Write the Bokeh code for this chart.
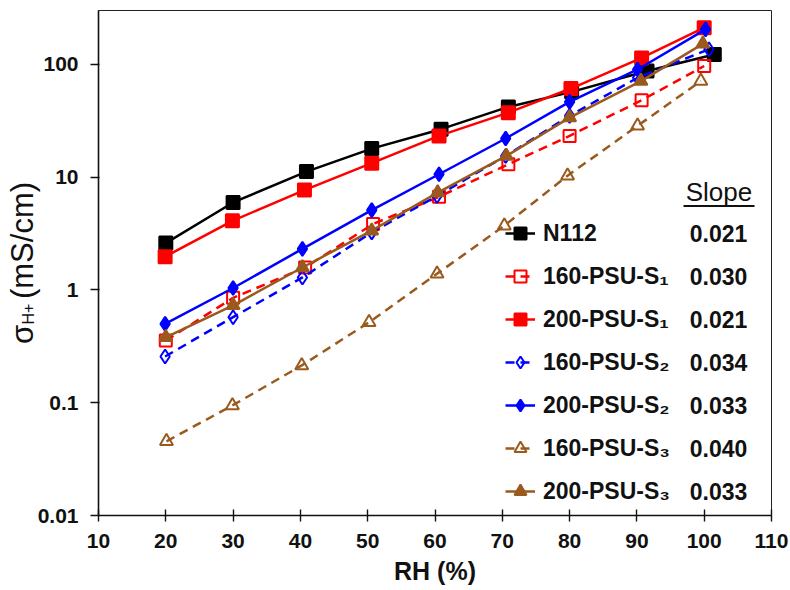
from bokeh.plotting import figure
from bokeh.models import (Range1d, FixedTicker, CustomJSTickFormatter, Legend,
                          LegendItem, Label, BoxAnnotation, LinearAxis,
                          LinearScale)
from bokeh.embed import file_html
from bokeh.resources import INLINE

# ---------------- data ----------------
X_TICKS = [10, 20, 30, 40, 50, 60, 70, 80, 90, 100, 110]
Y_TICKS = [0.01, 0.1, 1, 10, 100]

names = ["N112", "160-PSU-S\u2081", "200-PSU-S\u2081", "160-PSU-S\u2082",
         "200-PSU-S\u2082", "160-PSU-S\u2083", "200-PSU-S\u2083"]
slopes = ["0.021", "0.030", "0.021", "0.034", "0.033", "0.040", "0.033"]

rh_n112 = [20.0, 30.0, 40.9, 50.6, 60.9, 70.9, 80.3, 91.5, 101.5]
rh_160s1 = [20.0, 30.0, 40.7, 50.8, 60.6, 70.9, 80.0, 90.7, 100.0]
rh_200s1 = [19.9, 29.9, 40.6, 50.6, 60.6, 70.9, 80.2, 90.7, 100.0]
rh_160s2 = [19.9, 30.0, 40.3, 50.6, 60.3, 70.5, 80.0, 90.1, 100.7]
rh_200s2 = [19.9, 30.0, 40.3, 50.6, 60.6, 70.5, 80.0, 90.1, 100.2]
rh_160s3 = [20.1, 29.9, 40.2, 50.2, 60.3, 70.3, 79.7, 90.1, 99.5]
rh_200s3 = [20.0, 30.0, 40.3, 50.6, 60.4, 70.6, 80.0, 90.6, 99.8]

sig_n112 = [2.6, 5.96, 11.2, 17.9, 26.6, 41.9, 57.0, 87.3, 122.0]
sig_160s1 = [0.356, 0.85, 1.58, 3.84, 6.7, 13.0, 23.2, 48.0, 96.6]
sig_200s1 = [1.97, 4.1, 7.67, 13.3, 23.2, 37.3, 61.0, 114.0, 211.0]
sig_160s2 = [0.257, 0.573, 1.29, 3.24, 6.8, 15.4, 34.9, 76.0, 136.0]
sig_200s2 = [0.50, 1.04, 2.31, 5.1, 10.6, 22.0, 46.5, 90.0, 204.0]
sig_160s3 = [0.0455, 0.0946, 0.214, 0.516, 1.39, 3.71, 10.3, 28.5, 71.0]
sig_200s3 = [0.38, 0.73, 1.58, 3.35, 7.3, 15.4, 33.7, 71.0, 152.0]

# ---------------- figure ----------------
FONT = "Liberation Sans"
BROWN = "#9a5a1e"
INK = "#111111"

p = figure(width=790, height=590, y_axis_type="log",
           x_range=Range1d(10, 110), y_range=Range1d(0.01, 300),
           output_backend="svg", toolbar_location=None,
           min_border_left=98, min_border_right=19,
           min_border_top=10, min_border_bottom=75)

p.xgrid.grid_line_color = None
p.ygrid.grid_line_color = None
p.outline_line_color = "#222222"
p.outline_line_width = 1
p.background_fill_color = "white"
p.border_fill_color = "white"

xa = p.below[0]
ya = p.left[0]
xa.ticker = FixedTicker(ticks=X_TICKS)
ya.ticker = FixedTicker(ticks=Y_TICKS)
ya.formatter = CustomJSTickFormatter(code="return tick.toString();")
for ax in (xa, ya):
    ax.minor_tick_line_color = None
    ax.axis_line_color = INK
    ax.axis_line_width = 1.6
    ax.major_tick_line_color = INK
    ax.major_tick_line_width = 1.4
    ax.major_label_text_font = FONT
    ax.major_label_text_font_style = "bold"
    ax.major_label_text_font_size = "21px"
    ax.major_label_text_color = INK
xa.major_tick_out = 6
xa.major_tick_in = 6
xa.major_label_standoff = 12
xa.axis_label = "RH (%)"
xa.axis_label_text_font = FONT
xa.axis_label_text_font_style = "bold"
xa.axis_label_text_font_size = "25px"
xa.axis_label_text_color = INK
xa.axis_label_standoff = 6
ya.major_tick_out = 8
ya.major_tick_in = 1
ya.major_label_standoff = 12

# y-axis title: sigma + subscript "H+" + unit, carried by a bare axis
H_POS = 0.399
p.extra_y_ranges = {"ttl": Range1d(0, 1)}
p.extra_y_scales = {"ttl": LinearScale()}
ta = LinearAxis(y_range_name="ttl", ticker=FixedTicker(ticks=[H_POS]),
                formatter=CustomJSTickFormatter(code="return 'H+';"),
                axis_line_color=None, major_tick_line_color=None,
                minor_tick_line_color=None, major_tick_out=0, major_tick_in=0,
                major_label_orientation="parallel",
                major_label_standoff=-3,
                major_label_text_font=FONT, major_label_text_font_size="16px",
                major_label_text_font_style="normal",
                major_label_text_color=INK,
                axis_label="\u03c3\u00a0\u00a0\u00a0(mS/cm)",
                axis_label_standoff=-22,
                axis_label_text_font=FONT, axis_label_text_font_size="31px",
                axis_label_text_font_style="normal",
                axis_label_text_color=INK)
p.add_layout(ta, "left")

# ---------------- series ----------------
# (x, y, colour, dash, marker, size, fill)
specs = [
    (rh_n112, sig_n112, "black", None, "square", 13, "black"),
    (rh_160s1, sig_160s1, "red", "9 6", "square", 12, None),
    (rh_200s1, sig_200s1, "red", None, "square", 13, "red"),
    (rh_160s2, sig_160s2, "blue", "9 6", "diamond", 14, None),
    (rh_200s2, sig_200s2, "blue", None, "diamond", 14, "blue"),
    (rh_160s3, sig_160s3, BROWN, "9 6", "triangle", 13, None),
    (rh_200s3, sig_200s3, BROWN, None, "triangle", 13, BROWN),
]

items = []
for (xs, ys, col, dash, mk, sz, fill), nm in zip(specs, names):
    lr = p.line(xs, ys, line_color=col, line_width=2.5,
                line_dash=dash if dash else "solid")
    sr = p.scatter(xs, ys, marker=mk, size=sz,
                   line_color=col, line_width=2,
                   fill_color=fill, fill_alpha=1.0 if fill else 0.0)
    items.append(LegendItem(label=nm, renderers=[lr, sr]))

ROW_H = 32
ROW_GAP = 11
LEG_BOTTOM = 8
legend = Legend(items=items, location=(407, LEG_BOTTOM),
                border_line_color=None, background_fill_alpha=0,
                padding=0, margin=0, spacing=ROW_GAP,
                glyph_width=30, glyph_height=ROW_H, label_height=ROW_H,
                label_standoff=8,
                label_text_font=FONT, label_text_font_style="bold",
                label_text_font_size="23px", label_text_color=INK)
p.add_layout(legend)

# slope column
leg_top = LEG_BOTTOM + len(items) * ROW_H + (len(items) - 1) * ROW_GAP
for i, s in enumerate(slopes):
    yc = leg_top - ROW_H / 2 - i * (ROW_H + ROW_GAP)
    p.add_layout(Label(x=620, y=yc, x_units="screen", y_units="screen",
                       text=s, text_align="center", text_baseline="middle",
                       text_font=FONT, text_font_style="bold",
                       text_font_size="23px", text_color=INK))

p.add_layout(Label(x=620.5, y=323.5, x_units="screen", y_units="screen",
                   text="Slope", text_align="center", text_baseline="middle",
                   text_font=FONT, text_font_style="normal",
                   text_font_size="26px", text_color=INK))
p.add_layout(BoxAnnotation(left=585, right=656, bottom=308.5, top=310.5,
                           left_units="screen", right_units="screen",
                           bottom_units="screen", top_units="screen",
                           fill_color=INK, fill_alpha=1.0,
                           line_color=None))

open("out.html", "w").write(file_html(p, INLINE))
